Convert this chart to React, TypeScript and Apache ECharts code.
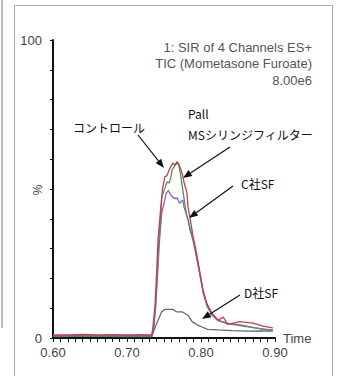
import React, { useEffect, useRef } from "react";
import * as echarts from "echarts";

// time values scaled ×100 (0.60 → 60)
const redX = [60, 62, 64, 66, 68, 70, 72, 73, 73.34, 73.51, 73.78, 74.0, 74.19, 74.5, 74.8, 75.1, 75.4, 75.8, 76.2, 76.49, 76.76, 77.0, 77.43, 77.7, 78.1, 78.24, 78.5, 78.9, 79.4, 79.86, 80.27, 80.77, 81.45, 82.3, 83.0, 83.6, 85.27, 87.0, 88.38, 89.7];
const redY = [1.0, 1.0, 1.2, 1.0, 1.1, 1.0, 1.1, 1.0, 1.0, 3.8, 10.5, 21.8, 32.9, 42, 50, 54, 54.5, 57, 58.7, 58, 59.2, 58.4, 55.4, 52.3, 48.7, 44, 40.6, 34.5, 28.5, 21.8, 16.1, 11.7, 8.4, 6.0, 7.0, 4.6, 5.5, 5.0, 4.0, 3.4];

const greenX = [60, 65, 70, 73, 73.4, 73.6, 73.85, 74.1, 74.3, 74.6, 74.7, 75.2, 75.4, 75.7, 75.9, 76.1, 76.5, 76.8, 77.0, 77.2, 77.4, 77.6, 77.8, 78.0, 78.4, 78.9, 79.4, 79.9, 80.3, 80.8, 81.5, 82.3, 83.5, 85.3, 87, 88.4, 89.7];
const greenY = [0.6, 0.7, 0.6, 0.6, 0.8, 4, 11, 22, 33, 42, 47.4, 50.8, 52.4, 52, 53.7, 56.4, 58, 58.7, 58, 55.4, 52, 48.7, 45.3, 42, 38, 33.5, 27.5, 21, 15.5, 11.2, 8, 6, 5, 4.4, 3.6, 3, 2.7];

const purpleX = [60, 65, 70, 73, 73.45, 73.65, 73.9, 74.15, 74.4, 74.7, 75.1, 75.3, 75.6, 75.9, 76.35, 76.8, 77.1, 77.3, 77.55, 77.7, 77.9, 78.1, 78.3, 78.5, 78.9, 79.4, 79.9, 80.3, 80.8, 81.5, 82.3, 83.5, 85.3, 87, 88.4, 89.7];
const purpleY = [0.8, 0.8, 0.8, 0.8, 1, 4, 11, 22, 33, 42, 46.3, 48.6, 49.5, 48, 46.9, 46.9, 45.2, 45.7, 46.3, 44, 42.4, 40.7, 39.6, 36.2, 33, 27, 20.5, 15, 10.8, 7.6, 5.8, 4.8, 4.2, 3.5, 3, 2.6];

const grayX = [60, 65, 70, 73.0, 73.34, 74.0, 74.69, 75.1, 76.2, 76.7, 77.4, 77.8, 78.3, 78.8, 79.5, 80.2, 80.9, 82.3, 84.2, 86.5, 88, 89.7];
const grayY = [0.5, 0.6, 0.5, 0.5, 0.4, 4.9, 8.8, 9.6, 9.6, 8.8, 8.8, 8.3, 7.4, 5.5, 4.4, 3.6, 2.9, 2.7, 2.5, 2.3, 2.4, 2.3];

const titleLines = ["1: SIR of 4 Channels ES+", "TIC (Mometasone Furoate)", "8.00e6"];
const yTickLabels = ["0", "100"];

const zip = (xs: number[], ys: number[]) => xs.map((x, i) => [x, ys[i]]);

function arrow(x1: number, y1: number, x2: number, y2: number) {
  const dx = x2 - x1, dy = y2 - y1;
  const len = Math.sqrt(dx * dx + dy * dy);
  const ux = dx / len, uy = dy / len;
  const hl = 9, hw = 3.5;
  const bx = x2 - ux * hl, by = y2 - uy * hl;
  return [
    { type: "line", shape: { x1, y1, x2: bx, y2: by }, style: { stroke: "#111", lineWidth: 1.2 }, z: 100 },
    {
      type: "polygon",
      shape: { points: [[x2, y2], [bx - uy * hw, by + ux * hw], [bx + uy * hw, by - ux * hw]] },
      style: { fill: "#111" },
      z: 100,
    },
  ];
}

const jp = "'Noto Sans CJK JP', sans-serif";
const ar = "'Liberation Sans', Arial, sans-serif";

export default function App() {
  const ref = useRef<HTMLDivElement>(null);
  useEffect(() => {
    const chart = echarts.init(ref.current!, null, { renderer: "svg" });
    const mkSeries = (name: string, xs: number[], ys: number[], color: string) => ({
      name,
      type: "line",
      data: zip(xs, ys),
      showSymbol: false,
      smooth: false,
      lineStyle: { color, width: 1.3 },
      itemStyle: { color },
    });
    chart.setOption({
      animation: false,
      backgroundColor: "#fff",
      grid: { left: 53, right: 62, top: 40, bottom: 38 },
      xAxis: {
        type: "value",
        min: 60,
        max: 90,
        interval: 10,
        name: "Time",
        nameLocation: "end",
        nameGap: 8,
        nameTextStyle: { color: "#444", fontSize: 13, fontFamily: ar, verticalAlign: "middle", padding: [0, 0, 4, 0] },
        axisLine: { show: true, lineStyle: { color: "#111", width: 2 } },
        axisTick: { show: true, length: 4, lineStyle: { color: "#111" } },
        minorTick: { show: true, splitNumber: 10, length: 4, lineStyle: { color: "#111" } },
        splitLine: { show: false },
        axisLabel: {
          color: "#444",
          fontSize: 13,
          fontFamily: ar,
          margin: 8,
          formatter: (v: number) => (v / 100).toFixed(2),
        },
      },
      yAxis: {
        type: "value",
        min: 0,
        max: 100,
        interval: 10,
        axisLine: { show: true, lineStyle: { color: "#111", width: 2 } },
        axisTick: { show: true, length: 3, lineStyle: { color: "#111" } },
        splitLine: { show: false },
        axisLabel: {
          color: "#444",
          fontSize: 13,
          fontFamily: ar,
          margin: 11,
          padding: [0, 0, 7, 0],
          formatter: (v: number) => (yTickLabels.includes(String(v)) ? String(v) : ""),
        },
      },
      series: [
        mkSeries("D社SF", grayX, grayY, "#5f6b6b"),
        mkSeries("C社SF", purpleX, purpleY, "#9b59c9"),
        mkSeries("Pall", greenX, greenY, "#3f9a5c"),
        mkSeries("コントロール", redX, redY, "#cc3a50"),
      ],
      graphic: [
        { type: "line", shape: { x1: 2, y1: 0, x2: 2, y2: 328 }, style: { stroke: "#bbb", lineWidth: 2 } },
        { type: "rect", shape: { x: 14.5, y: 5.5, width: 318, height: 380 }, style: { fill: "none", stroke: "#aaa", lineWidth: 1 } },
        {
          type: "text",
          x: 38,
          y: 190,
          rotation: Math.PI / 2,
          style: { text: "%", fill: "#444", font: `12px ${ar}`, align: "center", verticalAlign: "middle" },
        },
        ...titleLines.map((t, i) => ({
          type: "text",
          x: 312,
          y: 47 + i * 16.5,
          style: { text: t, fill: "#555", font: `13px ${ar}`, align: "right", verticalAlign: "middle" },
        })),
        { type: "text", x: 73, y: 127, style: { text: "コントロール", fill: "#111", font: `12px ${jp}`, verticalAlign: "middle" }, z: 100 },
        { type: "text", x: 188, y: 113, style: { text: "Pall", fill: "#111", font: `12px ${jp}`, verticalAlign: "middle" }, z: 100 },
        { type: "text", x: 188, y: 134, style: { text: "MSシリンジフィルター", fill: "#111", font: `12px ${jp}`, verticalAlign: "middle" }, z: 100 },
        { type: "text", x: 241, y: 183, style: { text: "C社SF", fill: "#111", font: `12px ${jp}`, verticalAlign: "middle" }, z: 100 },
        { type: "text", x: 244, y: 292, style: { text: "D社SF", fill: "#111", font: `12px ${jp}`, verticalAlign: "middle" }, z: 100 },
        ...arrow(138, 135, 164, 168),
        ...arrow(230, 147, 183, 178),
        ...arrow(233, 186, 189, 218),
        ...arrow(240, 295, 202, 319),
      ],
    });
    return () => chart.dispose();
  }, []);
  return <div ref={ref} style={{ position: "absolute", left: 0, top: 0, width: 337, height: 376 }} />;
}
